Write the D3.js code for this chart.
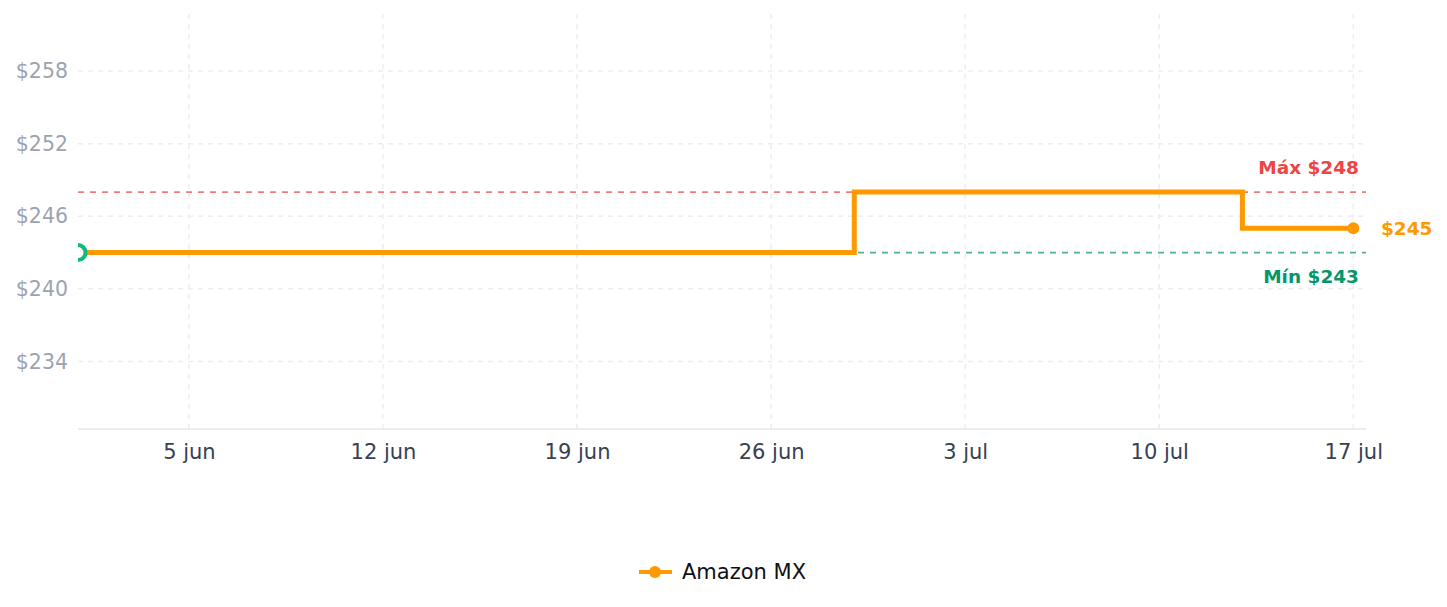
<!DOCTYPE html>
<html>
<head>
<meta charset="utf-8">
<script src="https://cdn.jsdelivr.net/npm/d3@7"></script>
<style>
  body { margin: 0; background: #fff; font-family: "DejaVu Sans", sans-serif; }
</style>
</head>
<body>
<svg id="chart" width="1447" height="607"></svg>
<script>
// price history (change points), Amazon MX
const priceDates = ["2024-06-01", "2024-06-29", "2024-07-13", "2024-07-17"];
const priceValues = [243, 248, 245, 245];
const yTicks = [234, 240, 246, 252, 258];
const xTickDates = ["2024-06-05", "2024-06-12", "2024-06-19", "2024-06-26", "2024-07-03", "2024-07-10", "2024-07-17"];
const xTickLabels = ["5 jun", "12 jun", "19 jun", "26 jun", "3 jul", "10 jul", "17 jul"];
const seriesName = "Amazon MX";

const parse = d3.timeParse("%Y-%m-%d");
const data = priceDates.map((d, i) => ({ date: parse(d), price: priceValues[i] }));
const maxP = d3.max(priceValues);
const minP = d3.min(priceValues);
const lastP = priceValues[priceValues.length - 1];

const mLeft = 78, mRight = 1366, mTop = 12, mBottom = 429;
const svg = d3.select("#chart");

const x = d3.scaleTime()
  .domain([parse("2024-06-01"), d3.timeHour.offset(parse("2024-07-17"), 11)])
  .range([mLeft, mRight]);
const y = d3.scaleLinear()
  .domain([minP * 0.94, maxP * 1.06])
  .range([mBottom, mTop]);

svg.append("defs").append("clipPath").attr("id", "plot")
  .append("rect").attr("x", mLeft).attr("y", mTop - 10)
  .attr("width", mRight - mLeft).attr("height", mBottom - mTop + 10);

// grid
svg.append("g").selectAll("line").data(yTicks).join("line")
  .attr("x1", mLeft).attr("x2", mRight)
  .attr("y1", d => y(d)).attr("y2", d => y(d))
  .attr("stroke", "#eceef1").attr("stroke-width", 1.5).attr("stroke-dasharray", "5,5");
svg.append("g").selectAll("line").data(xTickDates).join("line")
  .attr("x1", d => x(parse(d))).attr("x2", d => x(parse(d)))
  .attr("y1", 14).attr("y2", mBottom)
  .attr("stroke", "#eceef1").attr("stroke-width", 1.5).attr("stroke-dasharray", "5,5");

// axes
const yAxis = d3.axisLeft(y).tickValues(yTicks).tickSize(0).tickPadding(10).tickFormat(d => "$" + d);
svg.append("g").attr("transform", `translate(${mLeft},0)`).call(yAxis)
  .call(g => g.select(".domain").remove())
  .selectAll("text").attr("fill", "#9ca3af").style("font-size", "20.5px")
  .style("font-family", "DejaVu Sans, sans-serif");

const xAxis = d3.axisBottom(x).tickValues(xTickDates.map(parse)).tickSize(0).tickPadding(15)
  .tickFormat((d, i) => xTickLabels[i]);
svg.append("g").attr("transform", `translate(0,${mBottom})`).call(xAxis)
  .call(g => g.select(".domain").attr("stroke", "#e5e7eb").attr("stroke-width", 1.5)
    .attr("d", `M${mLeft},0H${mRight}`))
  .selectAll("text").attr("fill", "#374151").style("font-size", "21px")
  .style("font-family", "DejaVu Sans, sans-serif");

// max / min reference lines
svg.append("line").attr("x1", mLeft).attr("x2", mRight)
  .attr("y1", y(maxP)).attr("y2", y(maxP))
  .attr("stroke", "#f07a7a").attr("stroke-width", 1.8).attr("stroke-dasharray", "6,6");
svg.append("line").attr("x1", mLeft).attr("x2", mRight)
  .attr("y1", y(minP)).attr("y2", y(minP))
  .attr("stroke", "#4cb58f").attr("stroke-width", 1.8).attr("stroke-dasharray", "6,6");

// price line
const line = d3.line().x(d => x(d.date)).y(d => y(d.price)).curve(d3.curveStepAfter);
const plot = svg.append("g").attr("clip-path", "url(#plot)");
plot.append("path").datum(data).attr("d", line)
  .attr("fill", "none").attr("stroke", "#ff9900").attr("stroke-width", 5);

const first = data[0], last = data[data.length - 1];
plot.append("circle").attr("cx", x(first.date)).attr("cy", y(first.price)).attr("r", 7.5)
  .attr("fill", "#fff").attr("stroke", "#10b981").attr("stroke-width", 4);
svg.append("circle").attr("cx", x(last.date)).attr("cy", y(last.price)).attr("r", 6)
  .attr("fill", "#ff9900");

// labels
const lbl = svg.append("g").style("font-family", "DejaVu Sans, sans-serif")
  .style("font-size", "18.5px").style("font-weight", "bold");
lbl.append("text").attr("x", 1359).attr("y", y(maxP) - 18).attr("text-anchor", "end")
  .attr("fill", "#ef4444").text("Máx $" + maxP);
lbl.append("text").attr("x", 1359).attr("y", y(minP) + 30).attr("text-anchor", "end")
  .attr("fill", "#059669").text("Mín $" + minP);
lbl.append("text").attr("x", 1381).attr("y", y(lastP) + 7).attr("text-anchor", "start")
  .attr("fill", "#ff9900").text("$" + lastP);

// legend
const lg = svg.append("g").attr("transform", "translate(639,572)");
lg.append("line").attr("x1", 0).attr("x2", 33).attr("y1", 0).attr("y2", 0)
  .attr("stroke", "#ff9900").attr("stroke-width", 4);
lg.append("circle").attr("cx", 16).attr("cy", 0).attr("r", 6).attr("fill", "#ff9900");
lg.append("text").attr("x", 43).attr("y", 7).attr("fill", "#111")
  .style("font-size", "21px").style("font-family", "DejaVu Sans, sans-serif").text(seriesName);
</script>
</body>
</html>
